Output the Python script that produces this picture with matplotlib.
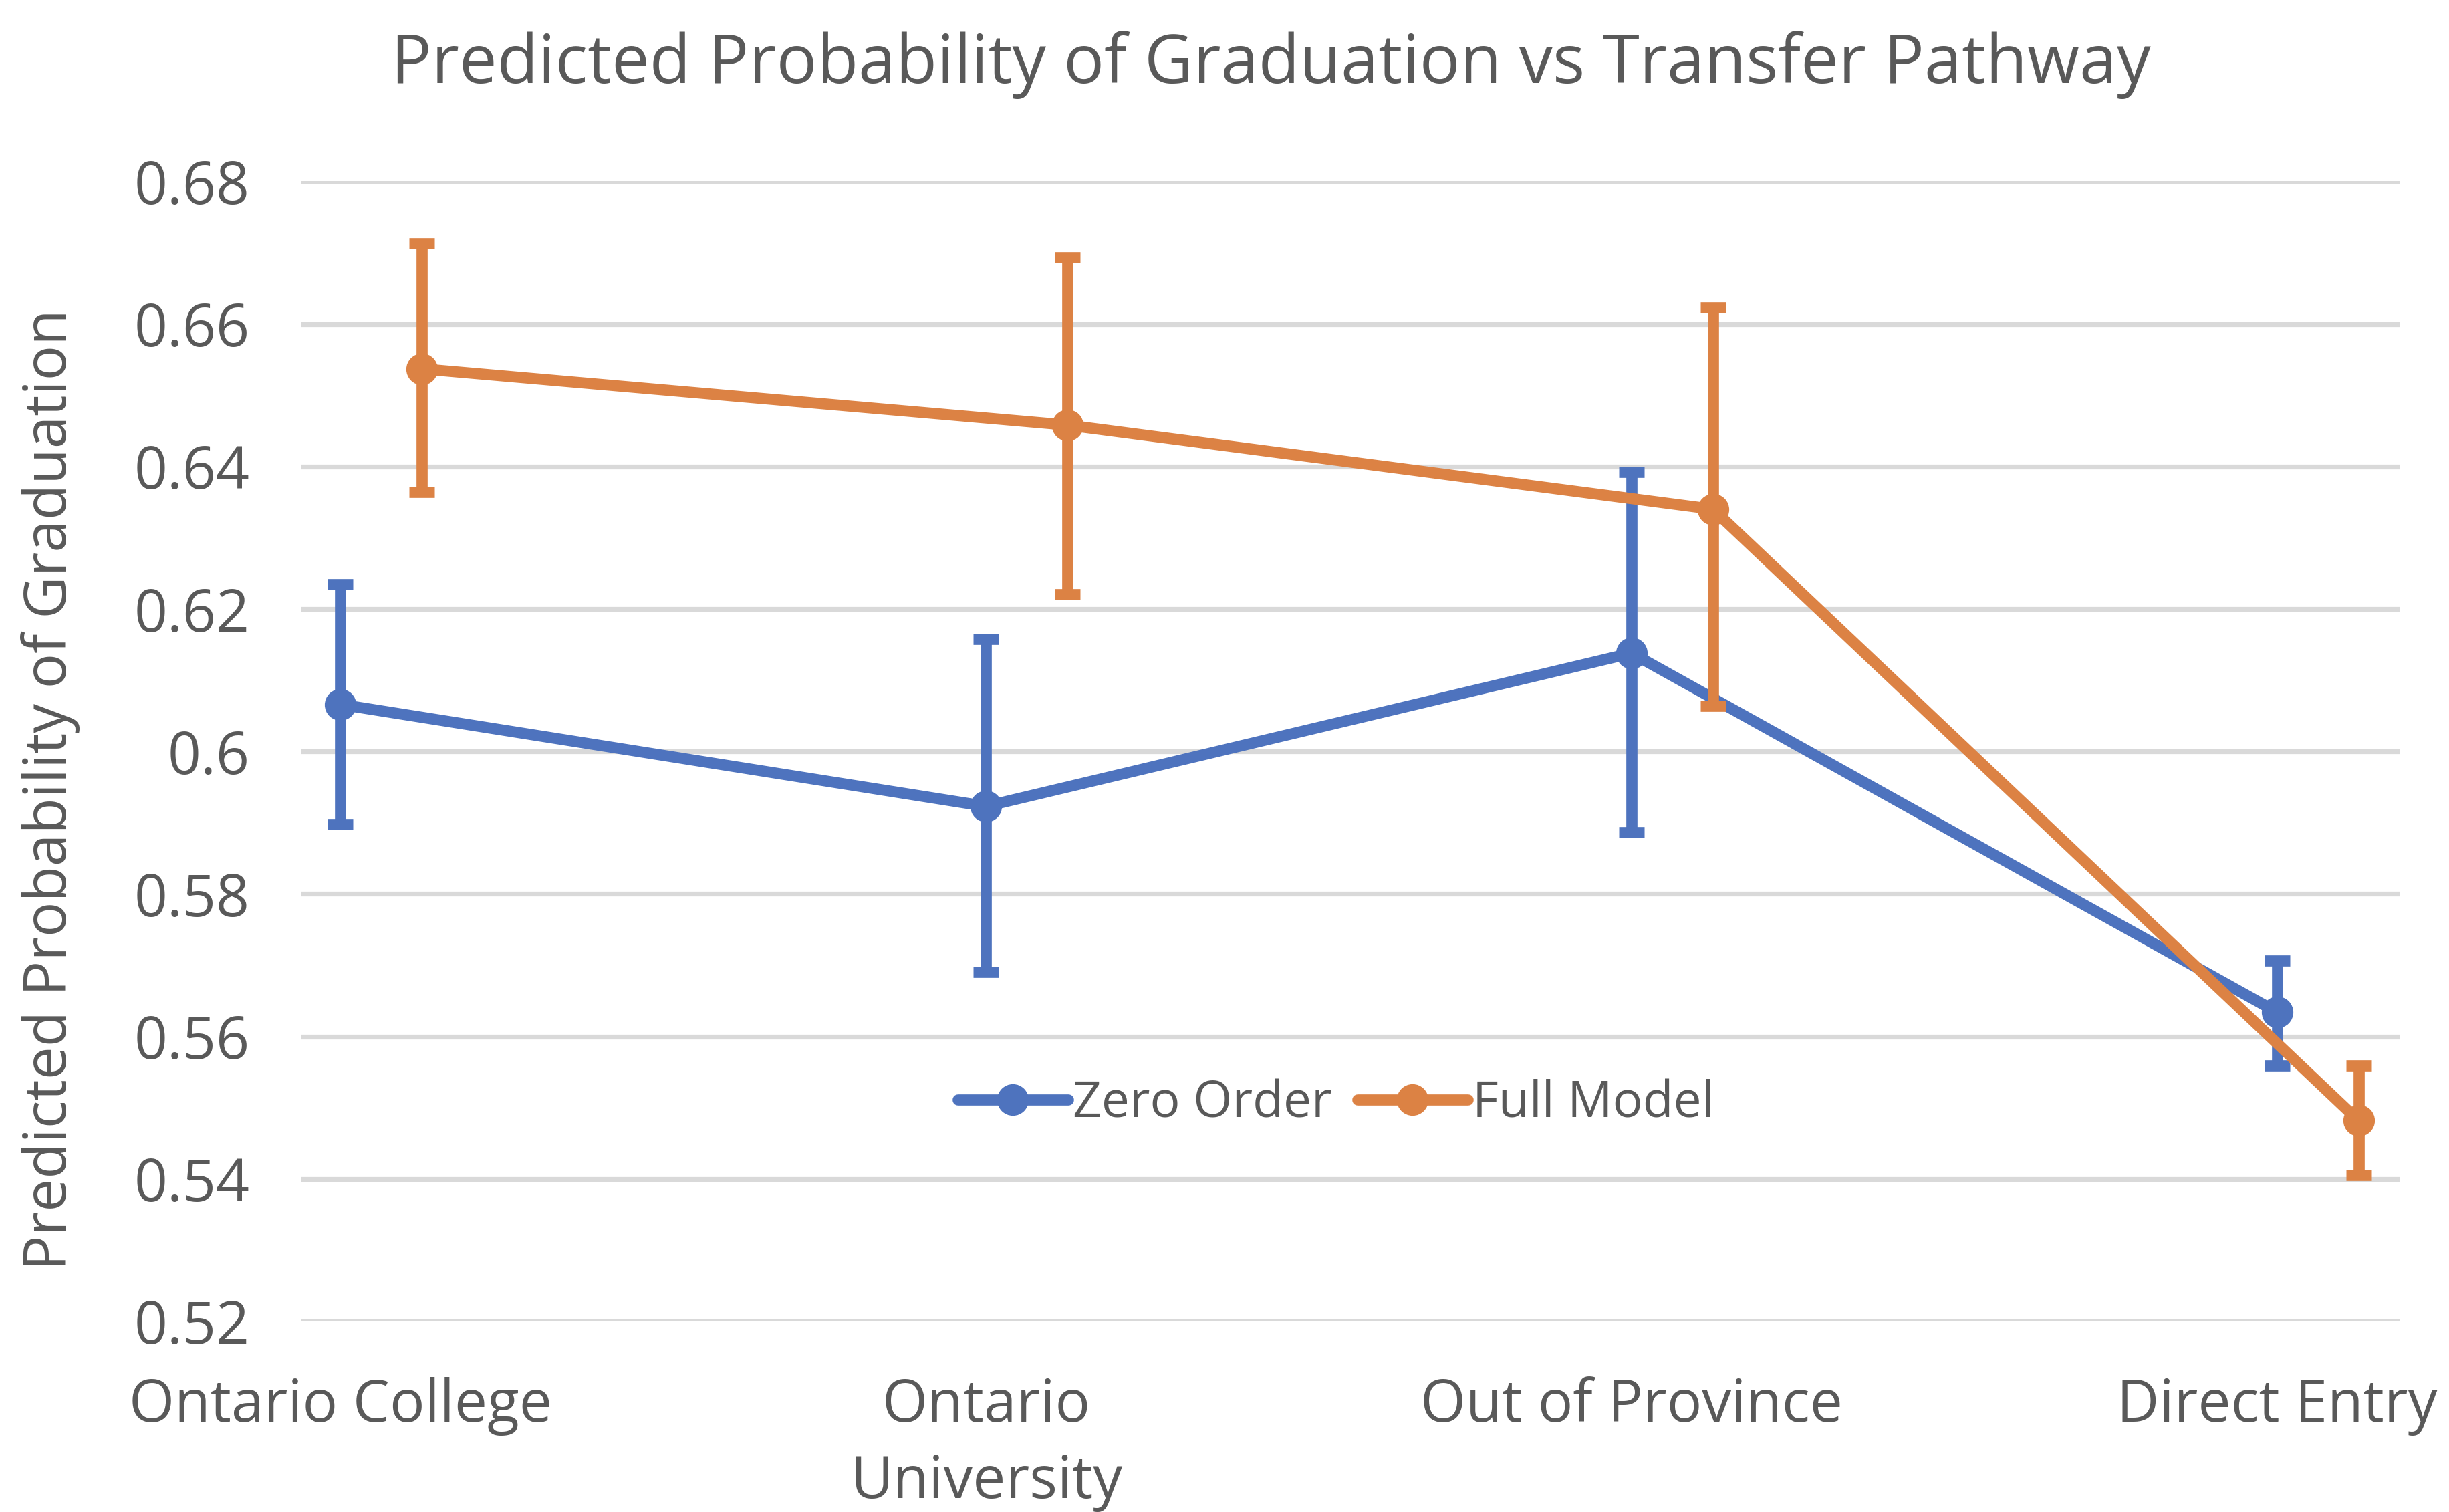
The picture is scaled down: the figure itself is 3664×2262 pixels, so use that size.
import matplotlib
matplotlib.use("Agg")
import matplotlib.pyplot as plt
from matplotlib.ticker import FuncFormatter
import numpy as np

# ---- data ----
categories = ["Ontario College", "Ontario\nUniversity", "Out of Province", "Direct Entry"]
zero_order = [0.6066, 0.5923, 0.6138, 0.5634]
zero_lower = [0.5898, 0.5691, 0.5887, 0.5559]
zero_upper = [0.6235, 0.6158, 0.6392, 0.5707]
full_model = [0.6537, 0.6458, 0.6340, 0.5482]
full_lower = [0.6364, 0.6221, 0.6064, 0.5405]
full_upper = [0.6713, 0.6693, 0.6623, 0.5559]
yticks = [0.52, 0.54, 0.56, 0.58, 0.60, 0.62, 0.64, 0.66, 0.68]

title = "Predicted Probability of Graduation vs Transfer Pathway"
ylabel = "Predicted Probability of Graduation"

BLUE = "#4E73BE"
ORANGE = "#DC8244"
TEXT = "#595959"
GRID = "#D9D9D9"
FONT = "Open Sans"

plt.rcParams['font.family'] = [FONT, 'DejaVu Sans']

fig = plt.figure(figsize=(18.32, 11.31), dpi=200)
ax = fig.add_axes([0.1231, 0.126, 0.8571, 0.754])

x = np.arange(len(categories))
offset = 0.126

def draw(xs, vals, lo, hi, color, label, z):
    vals = np.array(vals); lo = np.array(lo); hi = np.array(hi)
    err = np.vstack([vals - lo, hi - vals])
    ax.errorbar(xs, vals, yerr=err, fmt='none', ecolor=color, elinewidth=6,
                capsize=7, capthick=6, zorder=z)
    ax.plot(xs, vals, color=color, lw=6, marker='o', markersize=16,
            solid_joinstyle='round', solid_capstyle='round', label=label, zorder=z + 0.5)

draw(x, zero_order, zero_lower, zero_upper, BLUE, "Zero Order", 3)
draw(x + offset, full_model, full_lower, full_upper, ORANGE, "Full Model", 5)

ax.set_xlim(-0.0605, 3.191)
ax.set_ylim(0.52, 0.68)
ax.set_yticks(yticks)
ax.yaxis.set_major_formatter(FuncFormatter(lambda v, p: ("%.2f" % v).rstrip('0').rstrip('.')))
ax.set_xticks(x)
ax.set_xticklabels(categories, linespacing=1.38)

ax.grid(axis='y', color=GRID, lw=2.6)
ax.set_axisbelow(True)
for s in ax.spines.values():
    s.set_visible(False)
ax.tick_params(axis='both', length=0, labelsize=31.5, labelcolor=TEXT)
ax.tick_params(axis='y', pad=28)
ax.tick_params(axis='x', pad=30)

fig.text(0.519, 0.957, title, ha='center', va='center', fontsize=36.3, color=TEXT)
fig.text(0.0205, 0.478, ylabel, ha='center', va='center', rotation=90, fontsize=31.4, color=TEXT)

leg = fig.legend(loc='center', bbox_to_anchor=(0.5455, 0.2697), ncol=2, frameon=False,
                 fontsize=27, labelcolor=TEXT, handlelength=2.2, handletextpad=0.1,
                 columnspacing=0.5)

fig.savefig("out.png", dpi=200)
